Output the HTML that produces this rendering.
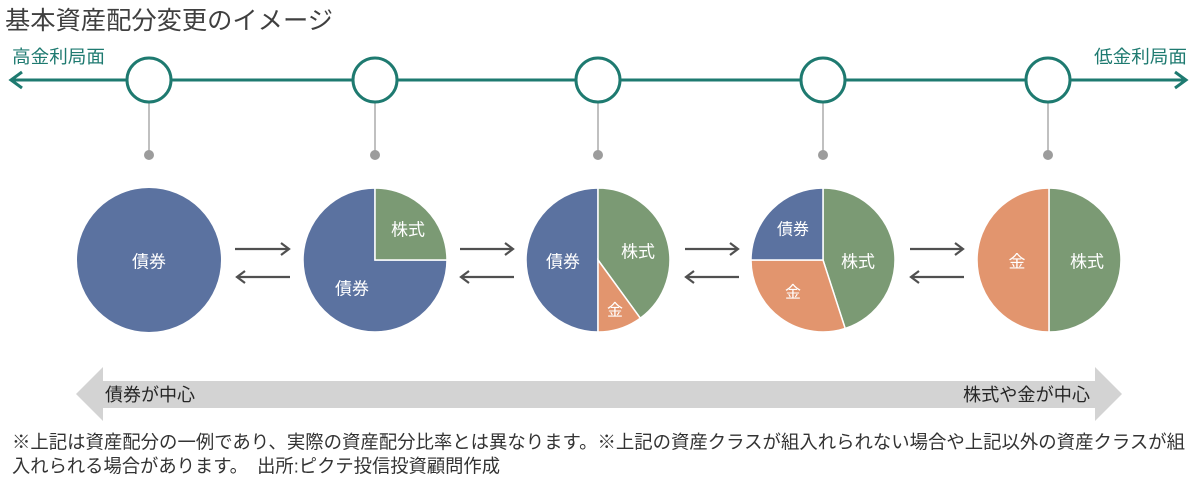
<!DOCTYPE html>
<html><head><meta charset="utf-8">
<style>
html,body{margin:0;padding:0;background:#fff;}
svg{display:block;}
text{font-family:"Liberation Sans","Noto Sans CJK JP",sans-serif;}
</style></head>
<body>
<svg width="1200" height="489" viewBox="0 0 1200 489" xmlns="http://www.w3.org/2000/svg">
<rect width="1200" height="489" fill="#fff"/>
<!-- title -->
<text x="5" y="21" font-size="25" fill="#3f3f3f" dominant-baseline="central" textLength="328" lengthAdjust="spacingAndGlyphs">基本資産配分変更のイメージ</text>

<!-- timeline -->
<g stroke="#1e7a70" stroke-width="3" fill="none">
<line x1="11" y1="80" x2="1186" y2="80"/>
<polyline points="22,72 11,80 22,88"/>
<polyline points="1175,72 1186,80 1175,88"/>
</g>
<text x="12" y="57" font-size="18" fill="#1e7a70" dominant-baseline="central" textLength="93" lengthAdjust="spacingAndGlyphs">高金利局面</text>
<text x="1094" y="57" font-size="18" fill="#1e7a70" dominant-baseline="central" textLength="93" lengthAdjust="spacingAndGlyphs">低金利局面</text>

<g stroke="#aaaaaa" stroke-width="1.5">
<line x1="149" y1="102" x2="149" y2="155"/>
<line x1="375" y1="102" x2="375" y2="155"/>
<line x1="598" y1="102" x2="598" y2="155"/>
<line x1="823" y1="102" x2="823" y2="155"/>
<line x1="1048" y1="102" x2="1048" y2="155"/>
</g>
<g fill="#9c9c9c">
<circle cx="149" cy="155" r="5"/>
<circle cx="375" cy="155" r="5"/>
<circle cx="598" cy="155" r="5"/>
<circle cx="823" cy="155" r="5"/>
<circle cx="1048" cy="155" r="5"/>
</g>
<g fill="#fff" stroke="#1e7a70" stroke-width="3">
<circle cx="149" cy="80" r="22"/>
<circle cx="375" cy="80" r="22"/>
<circle cx="598" cy="80" r="22"/>
<circle cx="823" cy="80" r="22"/>
<circle cx="1048" cy="80" r="22"/>
</g>

<!-- pies -->
<g stroke="#fff" stroke-width="1.5">
<circle cx="149" cy="260" r="72" fill="#5b72a0" stroke="none"/>
<!-- pie 2 -->
<path d="M375,260 L447,260 A72,72 0 1 1 375,188 Z" fill="#5b72a0"/>
<path d="M375,260 L375,188 A72,72 0 0 1 447,260 Z" fill="#7b9a74"/>
<!-- pie 3 -->
<path d="M598,260 L598,332 A72,72 0 0 1 598,188 Z" fill="#5b72a0"/>
<path d="M598,260 L598,188 A72,72 0 0 1 640.3,318.2 Z" fill="#7b9a74"/>
<path d="M598,260 L640.3,318.2 A72,72 0 0 1 598,332 Z" fill="#e2956e"/>
<!-- pie 4 -->
<path d="M823,260 L823,188 A72,72 0 0 1 845.2,328.5 Z" fill="#7b9a74"/>
<path d="M823,260 L845.2,328.5 A72,72 0 0 1 751,260 Z" fill="#e2956e"/>
<path d="M823,260 L751,260 A72,72 0 0 1 823,188 Z" fill="#5b72a0"/>
<!-- pie 5 -->
<path d="M1049,260 L1049,188 A72,72 0 0 1 1049,332 Z" fill="#7b9a74"/>
<path d="M1049,260 L1049,332 A72,72 0 0 1 1049,188 Z" fill="#e2956e"/>
</g>

<g fill="#fff" text-anchor="middle" dominant-baseline="central" font-size="17">
<text x="149" y="262">債券</text>
<text x="408" y="230">株式</text>
<text x="352" y="289">債券</text>
<text x="563" y="262">債券</text>
<text x="638" y="252">株式</text>
<text x="615" y="311" font-size="16">金</text>
<text x="793" y="230" font-size="16">債券</text>
<text x="858" y="262">株式</text>
<text x="793" y="293" font-size="16">金</text>
<text x="1017" y="262">金</text>
<text x="1087" y="262">株式</text>
</g>

<!-- double arrows -->
<g stroke="#505050" stroke-width="2.2" fill="none">
<line x1="235" y1="249" x2="289" y2="249"/><polyline points="281,243 289,249 281,255"/>
<line x1="237" y1="277" x2="290" y2="277"/><polyline points="245,271 237,277 245,283"/>
<line x1="460" y1="249" x2="513" y2="249"/><polyline points="505,243 513,249 505,255"/>
<line x1="461" y1="277" x2="514" y2="277"/><polyline points="469,271 461,277 469,283"/>
<line x1="685" y1="249" x2="738" y2="249"/><polyline points="730,243 738,249 730,255"/>
<line x1="686" y1="277" x2="739" y2="277"/><polyline points="694,271 686,277 694,283"/>
<line x1="910" y1="249" x2="963" y2="249"/><polyline points="955,243 963,249 955,255"/>
<line x1="911" y1="277" x2="964" y2="277"/><polyline points="919,271 911,277 919,283"/>
</g>

<!-- bottom big arrow -->
<polygon points="76,394 103,367 103,381 1095,381 1095,367 1122,394 1095,421 1095,408 103,408 103,421" fill="#d3d3d3"/>
<text x="105" y="395" font-size="18" fill="#262626" dominant-baseline="central" textLength="90" lengthAdjust="spacingAndGlyphs">債券が中心</text>
<text x="963" y="395" font-size="18" fill="#262626" dominant-baseline="central" textLength="127" lengthAdjust="spacingAndGlyphs">株式や金が中心</text>

<!-- footer -->
<text x="12" y="442" font-size="18.5" fill="#333" dominant-baseline="central" textLength="1173" lengthAdjust="spacingAndGlyphs">※上記は資産配分の一例であり、実際の資産配分比率とは異なります。※上記の資産クラスが組入れられない場合や上記以外の資産クラスが組</text>
<text x="12" y="466" font-size="18.5" fill="#333" dominant-baseline="central" textLength="488" lengthAdjust="spacingAndGlyphs">入れられる場合があります。　出所:ピクテ投信投資顧問作成</text>
</svg>
</body></html>
